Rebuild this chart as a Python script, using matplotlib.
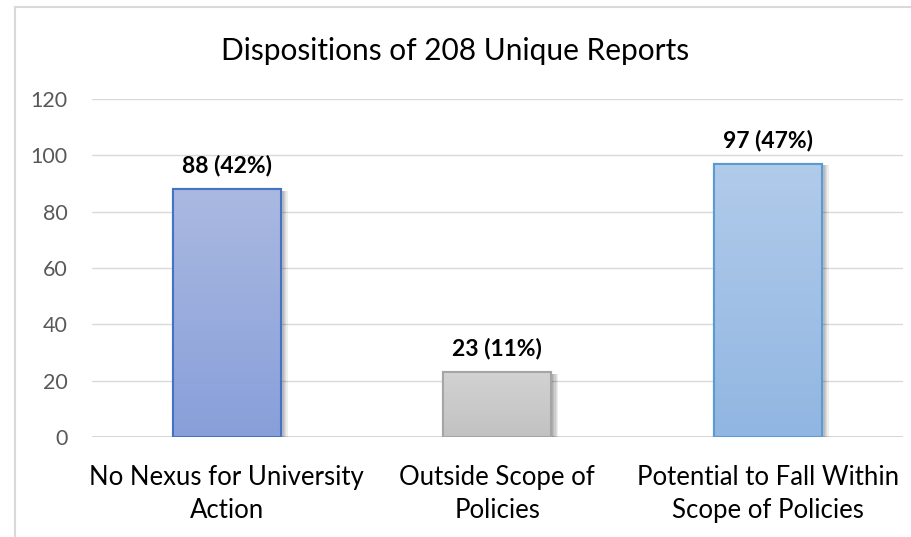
import matplotlib
matplotlib.use("Agg")
import matplotlib.pyplot as plt
import matplotlib.patheffects as pe
from matplotlib.colors import LinearSegmentedColormap
from matplotlib.lines import Line2D
import numpy as np

plt.rcParams['font.family'] = ['Lato', 'DejaVu Sans']

categories = ["No Nexus for University\nAction", "Outside Scope of\nPolicies",
              "Potential to Fall Within\nScope of Policies"]
counts = [88, 23, 97]
labels = ["88 (42%)", "23 (11%)", "97 (47%)"]
title = "Dispositions of 208 Unique Reports"
yticks = [0, 20, 40, 60, 80, 100, 120]

# top colour, bottom colour, edge colour
fills = [("#aab9e1", "#889fd9", "#4472c4"),
         ("#d2d2d2", "#c2c2c2", "#a5a5a5"),
         ("#b1cbea", "#91b6e2", "#5b9bd5")]

fig = plt.figure(figsize=(9.11, 5.37), dpi=100)
ax = fig.add_axes([91.5 / 911, 100 / 537, 811.5 / 911, 338 / 537])

x = np.arange(len(categories))
bars = ax.bar(x, counts, width=0.4, linewidth=1.5, zorder=3)
grad = np.linspace(0, 1, 256).reshape(-1, 1)
# soft shadow: a few offset copies with low alpha
shadow = [pe.SimplePatchShadow(offset=(d, -1), shadow_rgbFace="#000000", alpha=0.07)
          for d in (1, 2, 3, 4, 5)]
for b, (top, bot, edge) in zip(bars, fills):
    b.set_facecolor(bot)
    b.set_edgecolor(edge)
    b.set_path_effects(shadow + [pe.Normal()])
    cmap = LinearSegmentedColormap.from_list("g", [bot, top])
    x0, w, h = b.get_x(), b.get_width(), b.get_height()
    im = ax.imshow(grad, cmap=cmap, extent=(x0, x0 + w, 0, h), origin="lower",
                   aspect="auto", zorder=3.5)
    im.set_clip_path(b)
    # redraw the edge on top of the gradient
    ax.add_patch(plt.Rectangle((x0, 0), w, h, fill=False, edgecolor=edge, linewidth=1.5, zorder=4))

for xi, v, t in zip(x, counts, labels):
    ax.annotate(t, (xi, v), xytext=(0, 9), textcoords="offset points", ha="center",
                va="bottom", fontsize=16.5, fontweight="bold", color="black")

ax.set_xlim(-0.5, 2.5)
ax.set_ylim(0, 120)
ax.set_yticks(yticks)
ax.set_xticks(x)
ax.set_xticklabels(categories, fontsize=18.5, color="black", linespacing=1.4)
ax.tick_params(axis="y", length=0, pad=17, labelsize=15.5, labelcolor="#595959")
ax.tick_params(axis="x", length=0, pad=20)
ax.grid(axis="y", color="#d9d9d9", linewidth=1, zorder=0)
for s in ax.spines.values():
    s.set_visible(False)
ax.axhline(0, color="#d0d0d0", linewidth=1.2, zorder=2)

fig.text(455 / 911, 1 - 51 / 537, title, ha="center", va="center", fontsize=21.5, color="black")

# chart area border (left and top edges visible)
fig.add_artist(Line2D([15 / 911, 15 / 911], [0, 1 - 7 / 537], transform=fig.transFigure,
                      color="#d9d9d9", linewidth=1.5))
fig.add_artist(Line2D([15 / 911, 1], [1 - 7 / 537, 1 - 7 / 537], transform=fig.transFigure,
                      color="#d9d9d9", linewidth=1.5))

fig.savefig("out.png", dpi=100)
